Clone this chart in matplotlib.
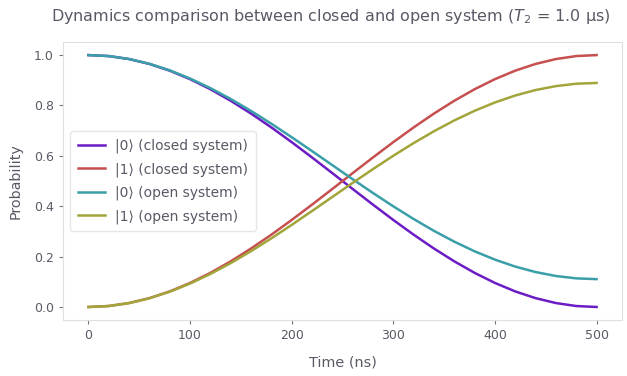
import matplotlib
matplotlib.use("Agg")
import matplotlib.pyplot as plt

# time axis in ns
time_ns = [0, 20, 40, 60, 80, 100, 120, 140, 160, 180, 200, 220, 240,
           260, 280, 300, 320, 340, 360, 380, 400, 420, 440, 460, 480, 500]

# closed system, |0> population
p0_closed = [1.0, 0.9961, 0.9843, 0.9649, 0.9382, 0.9045, 0.8645, 0.8187,
             0.7679, 0.7129, 0.6545, 0.5937, 0.5314, 0.4686, 0.4063, 0.3455,
             0.2871, 0.2321, 0.1813, 0.1355, 0.0955, 0.0618, 0.0351, 0.0157,
             0.0039, 0.0]
p1_closed = [1.0 - p for p in p0_closed]

# open system, |0> population
p0_open = [1.0, 0.9961, 0.9844, 0.9654, 0.9394, 0.9070, 0.8689, 0.8258,
           0.7783, 0.7275, 0.6741, 0.6190, 0.5631, 0.5073, 0.4525, 0.3996,
           0.3493, 0.3023, 0.2594, 0.2211, 0.1880, 0.1604, 0.1387, 0.1231,
           0.1137, 0.1106]
p1_open = [1.0 - p for p in p0_open]

text_col = "#5b5866"
fig = plt.figure(figsize=(6.27, 3.76), dpi=100)
ax = fig.add_axes([0.1005, 0.15, 0.8915, 0.737])

ax.plot(time_ns, p0_closed, color="#6c1cc4", lw=1.8, label="|0⟩ (closed system)")
ax.plot(time_ns, p1_closed, color="#c5504f", lw=1.8, label="|1⟩ (closed system)")
ax.plot(time_ns, p0_open, color="#3a9fa8", lw=1.8, label="|0⟩ (open system)")
ax.plot(time_ns, p1_open, color="#a2a53a", lw=1.8, label="|1⟩ (open system)")

for s in ax.spines.values():
    s.set_color("#e0e0e0")
ax.tick_params(colors="#777777", labelcolor=text_col, labelsize=9, length=3, width=0.8)
ax.set_xticks([0, 100, 200, 300, 400, 500])
ax.set_yticks([0.0, 0.2, 0.4, 0.6, 0.8, 1.0])

ax.set_xlabel("Time (ns)", color=text_col, fontsize=10.4, labelpad=10)
ax.set_ylabel("Probability", color=text_col, fontsize=10.4, labelpad=8)
fig.text(331 / 627, 1 - 17 / 376,
         "Dynamics comparison between closed and open system ($T_2$ = 1.0 µs)",
         color=text_col, fontsize=11.5, ha="center", va="center")

leg = ax.legend(loc="center left", fontsize=10, frameon=True, labelcolor=text_col,
                borderaxespad=0.5, labelspacing=0.65, borderpad=0.55,
                handletextpad=0.7)
leg.get_frame().set_edgecolor("#e0e0e0")

fig.savefig("out.png", dpi=100)
